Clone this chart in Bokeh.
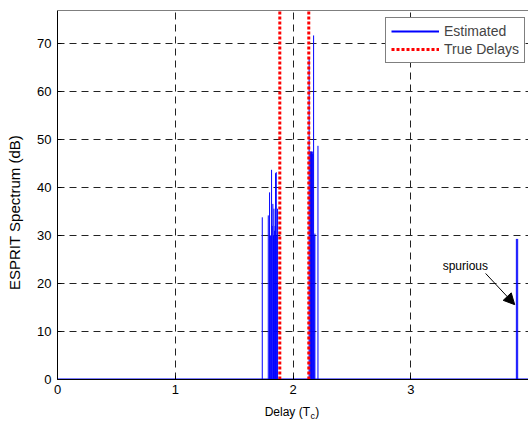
import math
from bokeh.plotting import figure
from bokeh.layouts import column, row
from bokeh.models import (Range1d, Label, Arrow, NormalHead, Legend, Span,
                          LegendItem, FixedTicker)
from bokeh.embed import file_html
from bokeh.resources import INLINE

# ---------------- data ----------------
x_ticks = [0, 1, 2, 3]
y_ticks = [0, 10, 20, 30, 40, 50, 60, 70]
x_max = 4.0
y_max = 76.9

est_delay = [1.739, 1.790, 1.801, 1.805, 1.810, 1.818, 1.823, 1.829, 1.834, 1.838, 1.844,
             1.848, 1.852, 1.858, 1.862, 1.869,
             2.137, 2.145, 2.150, 2.154, 2.158, 2.164, 2.168, 2.175, 2.180, 2.186, 2.212,
             3.897, 3.908]
est_db = [33.8, 34.2, 39.0, 30.0, 30.0, 43.7, 32.0, 36.6, 30.0, 35.6, 31.0,
          32.0, 43.0, 43.2, 30.0, 35.6,
          67.0, 47.5, 47.5, 47.5, 47.5, 47.5, 47.0, 71.7, 30.0, 30.4, 48.7,
          29.3, 29.3]
spectrum_start = 0.0
spectrum_end = 4.0
spectrum_floor = 0.0

true_delays = [1.888, 2.134]

spurious_text = "spurious"
spurious_text_pos = (3.271, 23.75)
spurious_arrow = (3.636, 22.1, 3.883, 15.6)

x_title = ("Delay (T", "c", ")")
y_title = "ESPRIT Spectrum (dB)"

FONT = "Liberation Sans"
LEFT_W = 30
MAIN_W = 528 - LEFT_W
BLUE = "#0000ff"
RED = "#ff0000"


def blank(width, height):
    f = figure(width=width, height=height, output_backend="svg", toolbar_location=None,
               x_range=Range1d(0, width), y_range=Range1d(0, height),
               x_axis_location=None, y_axis_location=None, min_border=0,
               min_border_left=0, min_border_right=0, min_border_top=0, min_border_bottom=0)
    f.outline_line_color = None
    f.xgrid.visible = False
    f.ygrid.visible = False
    return f


p = figure(width=MAIN_W, height=400, output_backend="svg", toolbar_location=None,
           x_range=Range1d(0, x_max), y_range=Range1d(0, y_max),
           min_border_left=57 - LEFT_W, min_border_right=0, min_border_top=10,
           min_border_bottom=21)
p.outline_line_color = None
p.background_fill_color = "white"
p.border_fill_color = "white"

# grid
for g in (p.xgrid, p.ygrid):
    g.grid_line_color = "#222222"
    g.grid_line_dash = "7 5"
    g.grid_line_width = 1
p.xgrid.ticker = FixedTicker(ticks=x_ticks)
p.ygrid.ticker = FixedTicker(ticks=y_ticks)

# axes
for ax in (p.xaxis[0], p.yaxis[0]):
    ax.major_tick_in = 4
    ax.major_tick_out = 0
    ax.minor_tick_line_color = None
    ax.axis_line_color = "black"
    ax.major_tick_line_color = "black"
    ax.major_label_text_font = FONT
    ax.major_label_text_font_size = "13px"
    ax.major_label_text_color = "black"
p.xaxis[0].ticker = FixedTicker(ticks=x_ticks)
p.yaxis[0].ticker = FixedTicker(ticks=y_ticks)
p.xaxis[0].major_label_standoff = 5
p.yaxis[0].major_label_standoff = 6

# top border of the box
p.add_layout(Span(location=y_max, dimension="width", line_color="black", line_width=1))

# estimated spectrum: floor + spikes
floor_r = p.segment(x0=[spectrum_start], y0=[spectrum_floor], x1=[spectrum_end],
                    y1=[spectrum_floor], line_color=BLUE, line_width=2)
spike_r = p.segment(x0=est_delay, y0=[spectrum_floor] * len(est_delay), x1=est_delay,
                    y1=est_db, line_color=BLUE, line_width=1)
seg_r = p.segment(x0=true_delays, y0=[0] * len(true_delays), x1=true_delays,
                  y1=[y_max] * len(true_delays), line_color=RED, line_width=3,
                  line_dash="3 2")

legend = Legend(items=[LegendItem(label="Estimated", renderers=[floor_r]),
                       LegendItem(label="True Delays", renderers=[seg_r])],
                location=(328, 316), margin=0, padding=5, spacing=2,
                label_height=16, glyph_height=16, glyph_width=48, label_standoff=5,
                label_text_font=FONT, label_text_font_size="14px",
                border_line_color="black", border_line_width=1,
                background_fill_color="white", background_fill_alpha=1)
p.add_layout(legend)

# spurious annotation
p.add_layout(Label(x=spurious_text_pos[0], y=spurious_text_pos[1], text=spurious_text,
                   text_font=FONT, text_font_size="12px", text_baseline="middle",
                   text_align="left", text_color="black"))
p.add_layout(Arrow(x_start=spurious_arrow[0], y_start=spurious_arrow[1],
                   x_end=spurious_arrow[2], y_end=spurious_arrow[3],
                   line_color="black", line_width=1,
                   end=NormalHead(size=11, fill_color="black", line_color="black")))

# ---------------- x-axis title strip (with subscript) ----------------
bottom = blank(MAIN_W, 23)
ax_x = 297 - LEFT_W
bottom.add_layout(Label(x=ax_x, y=12, text=x_title[0], text_font=FONT, text_font_size="12px",
                        text_baseline="middle", text_align="right", text_color="black"))
bottom.add_layout(Label(x=ax_x + 0.5, y=8, text=x_title[1], text_font=FONT,
                        text_font_size="9px", text_baseline="middle", text_align="left",
                        text_color="black"))
bottom.add_layout(Label(x=ax_x + 5.5, y=12, text=x_title[2], text_font=FONT,
                        text_font_size="12px", text_baseline="middle", text_align="left",
                        text_color="black"))

# ---------------- y-axis title strip ----------------
left = blank(LEFT_W, 423)
left.add_layout(Label(x=14, y=423 - 212, text=y_title, angle=math.pi / 2,
                      text_font=FONT, text_font_size="15px", text_baseline="middle",
                      text_align="center", text_color="black"))

layout = row(left, column(p, bottom, spacing=0), spacing=0)
open("out.html", "w").write(file_html(layout, INLINE))
